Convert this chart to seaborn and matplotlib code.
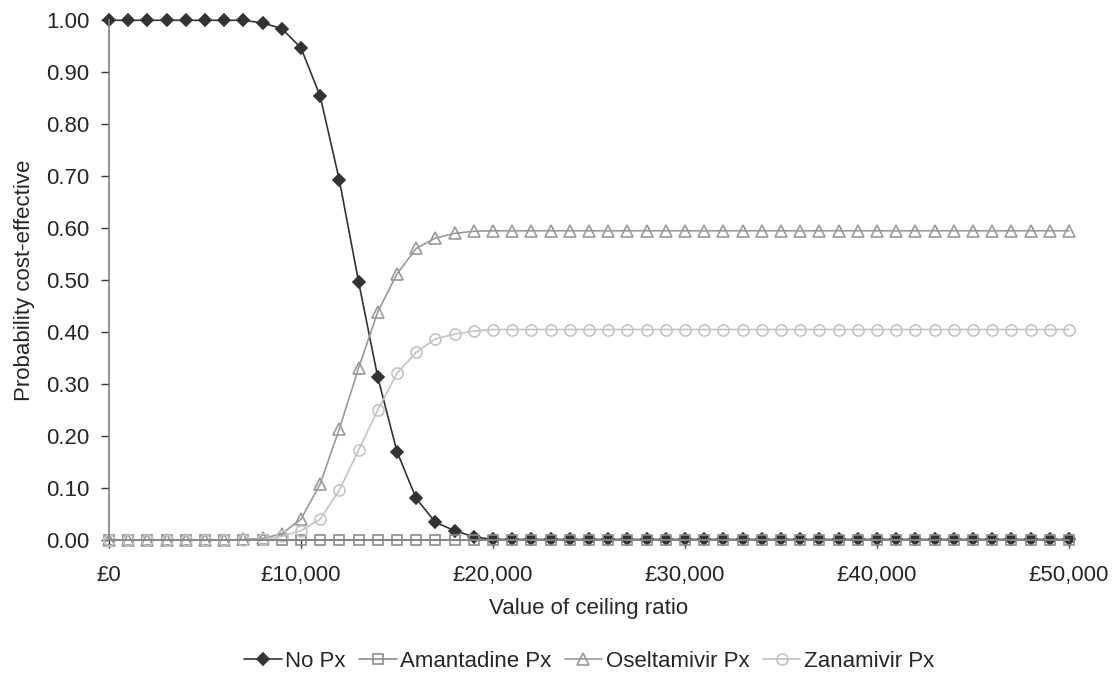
#!/usr/bin/env python3
"""Cost-effectiveness acceptability curves for prophylaxis options."""

import matplotlib
matplotlib.use("Agg")
import matplotlib.pyplot as plt
import matplotlib.ticker as ticker
import pandas as pd
import seaborn as sns

# Ceiling ratio in £ (0 to 50,000 in steps of 1,000)
CEILING = list(range(0, 50001, 1000))

NO_PX = [1.000, 1.000, 1.000, 1.000, 1.000, 1.000, 1.000, 1.000, 0.995, 0.984,
         0.947, 0.854, 0.692, 0.497, 0.313, 0.170, 0.080, 0.034, 0.018, 0.006] + [0.001] * 31
AMANTADINE_PX = [0.0] * 51
OSELTAMIVIR_PX = [0.0, 0.0, 0.0, 0.0, 0.0, 0.0, 0.0, 0.001, 0.003, 0.012,
                  0.040, 0.108, 0.214, 0.331, 0.439, 0.512, 0.561, 0.581, 0.590, 0.594] + [0.595] * 31
ZANAMIVIR_PX = [0.0, 0.0, 0.0, 0.0, 0.0, 0.0, 0.0, 0.0, 0.001, 0.007,
                0.018, 0.040, 0.096, 0.173, 0.250, 0.321, 0.361, 0.387, 0.396, 0.402] + [0.405] * 31

SERIES = {
    "No Px": NO_PX,
    "Amantadine Px": AMANTADINE_PX,
    "Oseltamivir Px": OSELTAMIVIR_PX,
    "Zanamivir Px": ZANAMIVIR_PX,
}

STYLE = {
    "No Px": dict(color="#333333", marker="D", ms=6.5, mfc="#333333"),
    "Amantadine Px": dict(color="#8c8c8c", marker="s", ms=6.5, mfc="none"),
    "Oseltamivir Px": dict(color="#999999", marker="^", ms=8, mfc="none"),
    "Zanamivir Px": dict(color="#c4c4c4", marker="o", ms=8, mfc="none"),
}


def main():
    sns.set_style("white")
    plt.rcParams["font.family"] = ["Liberation Sans", "DejaVu Sans"]

    fig = plt.figure(figsize=(11.19, 6.77), dpi=100)
    ax = fig.add_axes([0.0974, 0.2024, 0.8579, 0.7676])

    for name, values in SERIES.items():
        st = STYLE[name]
        df = pd.DataFrame({"ceiling": CEILING, "prob": values})
        sns.lineplot(
            data=df, x="ceiling", y="prob", ax=ax,
            color=st["color"], marker=st["marker"], markersize=st["ms"],
            markerfacecolor=st["mfc"], markeredgecolor=st["color"],
            markeredgewidth=1.2, linewidth=1.2, label=name, clip_on=False,
        )

    ax.set_xlim(0, 50000)
    ax.set_ylim(0, 1.0)
    ax.yaxis.set_major_locator(ticker.MultipleLocator(0.1))
    ax.yaxis.set_major_formatter(ticker.FormatStrFormatter("%.2f"))
    ax.xaxis.set_major_locator(ticker.MultipleLocator(10000))
    ax.xaxis.set_major_formatter(ticker.FuncFormatter(lambda v, p: f"£{v:,.0f}"))

    for side in ("top", "right"):
        ax.spines[side].set_visible(False)
    for side in ("left", "bottom"):
        ax.spines[side].set_color("#808080")
        ax.spines[side].set_linewidth(1.2)
    ax.tick_params(axis="both", which="major", labelsize=16, length=6,
                   width=1, color="#333333", direction="out",
                   left=True, bottom=True)
    ax.tick_params(axis="y", pad=8)
    ax.tick_params(axis="x", pad=12)

    ax.set_xlabel("Value of ceiling ratio", fontsize=16, labelpad=9)
    ax.set_ylabel("Probability cost-effective", fontsize=16, labelpad=8)

    ax.legend(
        loc="center", bbox_to_anchor=(0.5, -0.233), ncol=4,
        frameon=False, handlelength=1.7, handletextpad=0.15,
        columnspacing=0.6, borderaxespad=0,
        prop={"family": ["Liberation Sans"], "size": 16},
    )

    fig.savefig("out.png", dpi=100)
    plt.close(fig)


if __name__ == "__main__":
    main()
